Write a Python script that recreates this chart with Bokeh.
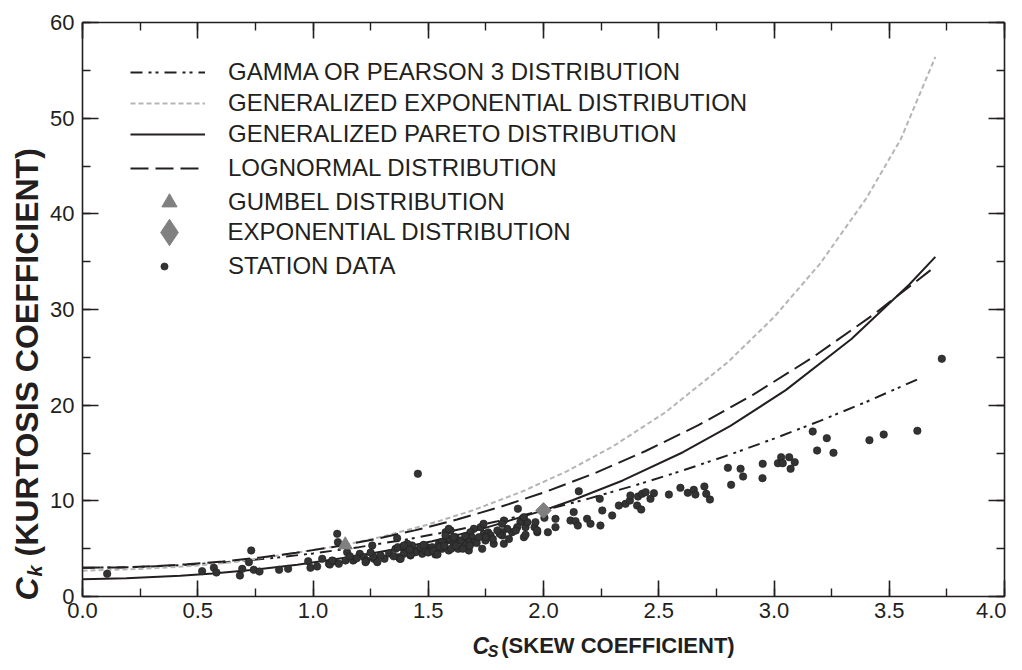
import math
from bokeh.plotting import figure
from bokeh.layouts import row, column
from bokeh.models import (Range1d, LinearAxis, SingleIntervalTicker, NumeralTickFormatter,
                          Legend, LegendItem)
from bokeh.core.properties import value
from bokeh.embed import file_html
from bokeh.resources import INLINE

# ---------------- data ----------------
gamma_cs = [0.0, 0.2, 0.4, 0.6, 0.8, 1.0, 1.2, 1.4, 1.6, 1.8, 2.0, 2.2, 2.4, 2.6, 2.8, 3.0, 3.2, 3.4, 3.63]
gamma_ck = [3.0, 3.06, 3.24, 3.54, 3.96, 4.50, 5.16, 5.94, 6.84, 7.86, 9.00, 10.26, 11.64, 13.14, 14.76, 16.50, 18.36, 20.34, 22.77]

genexp_cs = [0.0, 0.25, 0.45, 0.64, 0.87, 1.14, 1.30, 1.50, 1.70, 1.91, 2.10, 2.30, 2.53, 2.80, 3.00, 3.20, 3.40, 3.55, 3.70]
genexp_ck = [2.70, 2.88, 3.15, 3.55, 4.35, 5.40, 6.26, 7.53, 9.06, 11.0, 13.07, 15.67, 19.27, 24.5, 29.2, 34.8, 41.6, 47.8, 56.4]

pareto_cs = [0.0, 0.19, 0.424, 0.566, 0.732, 0.932, 1.183, 1.337, 1.517, 1.733, 2.0, 2.126, 2.344, 2.605, 2.811, 3.051, 3.336, 3.587, 3.70]
pareto_ck = [1.80, 1.90, 2.16, 2.40, 2.76, 3.31, 4.20, 4.87, 5.78, 7.07, 9.00, 10.06, 12.13, 15.08, 17.83, 21.57, 26.91, 32.61, 35.5]

lognorm_cs = [0.0, 0.150, 0.301, 0.453, 0.608, 0.766, 0.927, 1.093, 1.264, 1.441, 1.625, 1.816, 2.016, 2.225, 2.443, 2.672, 2.912, 3.164, 3.429, 3.70]
lognorm_ck = [3.0, 3.04, 3.16, 3.37, 3.66, 4.06, 4.57, 5.20, 5.97, 6.91, 8.04, 9.39, 11.00, 12.92, 15.21, 17.91, 21.13, 24.93, 29.42, 34.5]

gumbel_cs = [1.14]
gumbel_ck = [5.4]
expo_cs = [2.0]
expo_ck = [9.0]

station_cs = [
    0.107, 0.519, 0.570, 0.581, 0.683, 0.693, 0.722, 0.732, 0.743, 0.768, 0.853, 0.892,
    0.979, 0.989, 1.018, 1.040, 1.069, 1.090, 1.105, 1.108, 1.112, 1.141, 1.148, 1.177,
    1.203, 1.221, 1.232, 1.257, 1.264, 1.279, 1.310, 1.358, 1.365, 1.372, 1.387, 1.401,
    1.423, 1.430, 1.452, 1.474, 1.495,
    1.455, 1.073, 1.083, 1.174, 1.228, 1.261, 1.293, 1.368, 1.377, 1.394, 1.409, 1.445,
    1.466, 1.488, 1.517, 1.531, 1.546, 1.560, 1.575, 1.582, 1.589,
    2.153, 1.889, 2.004, 2.052, 2.052, 2.131, 2.117, 2.139, 2.149, 2.189, 2.204, 2.247,
    2.255, 2.244, 2.298, 2.327, 2.356, 2.375, 2.377, 2.406, 1.908, 1.900, 1.922, 1.961,
    1.973, 2.019, 1.965, 1.930, 1.886, 1.864, 1.880, 1.843, 1.820, 1.821, 1.810, 1.784,
    1.748, 1.741, 1.760, 1.770, 1.828, 1.820, 1.727, 1.740, 1.698, 1.683, 1.690, 1.698,
    1.670, 1.654, 1.640, 1.618, 1.610, 1.597, 1.590, 1.575, 1.560, 1.550, 1.915, 1.828,
    2.410, 2.424, 2.428, 2.443, 2.464, 2.479, 2.544, 2.594, 2.626, 2.652, 2.659, 2.698,
    2.706, 2.722, 2.800, 2.814, 2.855, 2.866, 1.915, 1.922, 1.973, 1.734, 1.676, 1.630,
    1.589, 1.611, 1.531, 1.424, 1.394, 1.380,
    2.951, 2.950, 3.017, 3.031, 3.038, 3.066, 3.072, 3.090, 3.168, 3.187, 3.229, 3.258,
    3.414, 3.476, 3.622, 3.728,
    1.330, 1.350, 1.420, 1.480, 1.500, 1.520, 1.540, 1.570, 1.600, 1.620, 1.650, 1.660,
    1.680, 1.710, 1.720, 1.750, 1.780, 1.800, 1.850, 1.250, 1.190, 1.160,
]
station_ck = [
    2.37, 2.65, 3.00, 2.51, 2.19, 2.89, 3.59, 4.81, 2.79, 2.61, 2.79, 2.89,
    3.69, 3.00, 3.14, 3.94, 3.42, 3.69, 6.55, 5.68, 3.42, 3.76, 4.63, 3.84,
    4.46, 4.11, 3.76, 5.33, 3.94, 3.59, 3.94, 4.98, 6.10, 4.11, 5.15, 4.63,
    4.29, 5.33, 4.81, 4.46, 5.15,
    12.83, 3.34, 3.76, 3.76, 3.59, 4.18, 4.29, 5.15, 3.94, 4.46, 5.51, 4.63,
    5.15, 4.81, 5.15, 4.63, 5.51, 4.98, 6.72, 5.85, 4.81,
    11.00, 9.17, 8.22, 8.12, 7.25, 8.82, 7.94, 7.87, 7.42, 8.12, 7.60, 7.42,
    8.99, 10.21, 8.47, 9.51, 9.69, 10.03, 10.56, 9.51, 8.12, 7.80, 7.25, 7.25,
    6.72, 6.72, 7.77, 7.77, 7.25, 6.72, 6.90, 7.07, 6.72, 6.38, 6.55, 5.51,
    5.85, 6.55, 6.70, 6.40, 7.94, 7.60, 7.25, 7.60, 7.07, 6.72, 6.20, 5.68,
    5.85, 5.51, 5.85, 6.20, 5.51, 6.90, 6.03, 6.38, 5.70, 5.20, 6.20, 5.51,
    10.45, 9.09, 10.73, 10.90, 10.21, 10.80, 10.66, 11.36, 10.84, 11.15, 10.66, 11.50,
    10.73, 10.14, 13.45, 11.67, 13.35, 12.54, 8.29, 6.45, 6.90, 4.98, 4.81, 4.98,
    7.07, 6.20, 4.39, 4.39, 5.33, 3.94,
    13.87, 12.37, 13.93, 14.56, 13.93, 14.56, 13.35, 14.04, 17.25, 15.26, 16.55, 15.02,
    16.34, 16.93, 17.32, 24.85,
    4.50, 4.20, 4.90, 5.40, 4.60, 4.80, 4.40, 5.30, 5.00, 5.30, 5.00, 6.30,
    5.30, 5.60, 6.20, 6.20, 6.00, 6.90, 6.00, 4.60, 4.00, 4.20,
]

legend_labels = ["GAMMA OR PEARSON 3 DISTRIBUTION", "GENERALIZED EXPONENTIAL DISTRIBUTION",
                 "GENERALIZED PARETO DISTRIBUTION", "LOGNORMAL DISTRIBUTION",
                 "GUMBEL DISTRIBUTION", "EXPONENTIAL DISTRIBUTION", "STATION DATA"]

x_ticks = [0.0, 0.5, 1.0, 1.5, 2.0, 2.5, 3.0, 3.5, 4.0]
y_ticks = [0, 10, 20, 30, 40, 50, 60]

x_title = ["C", "S", "(SKEW COEFFICIENT)"]
y_title = ["C", "k", "(KURTOSIS COEFFICIENT)"]

# ---------------- layout constants ----------------
INK = "#231f20"
FONT = "Liberation Sans"
YT_W = 46            # width of the y-title strip
P_W, P_H = 960, 632  # main plot
XT_H = 32            # height of the x-title strip
TOTAL_H = P_H + XT_H

p = figure(width=P_W, height=P_H, x_range=Range1d(0, 4), y_range=Range1d(0, 60),
           output_backend="svg", toolbar_location=None,
           min_border_left=36, min_border_right=2, min_border_top=22, min_border_bottom=36)
p.grid.visible = False
p.outline_line_color = None
p.background_fill_color = "white"
p.border_fill_color = "white"


def style_axis(ax, ticker, labels=True):
    ax.ticker = ticker
    ax.axis_line_color = INK
    ax.axis_line_width = 1.6
    ax.major_tick_line_color = INK
    ax.major_tick_line_width = 1.6
    ax.minor_tick_line_color = INK
    ax.minor_tick_line_width = 1.4
    ax.major_tick_in = 16
    ax.major_tick_out = 0
    ax.minor_tick_in = 8
    ax.minor_tick_out = 0
    if labels:
        ax.major_label_text_font = FONT
        ax.major_label_text_font_size = "22px"
        ax.major_label_text_color = INK
    else:
        ax.major_label_text_font_size = "0px"
        ax.major_label_standoff = 0
        ax.major_label_text_alpha = 0


style_axis(p.xaxis[0], SingleIntervalTicker(interval=x_ticks[1] - x_ticks[0], num_minor_ticks=2))
p.xaxis[0].formatter = NumeralTickFormatter(format="0.0")
p.xaxis[0].major_label_standoff = 6
style_axis(p.yaxis[0], SingleIntervalTicker(interval=y_ticks[1] - y_ticks[0], num_minor_ticks=2))
p.yaxis[0].major_label_standoff = 8

top = LinearAxis()
style_axis(top, SingleIntervalTicker(interval=x_ticks[1] - x_ticks[0], num_minor_ticks=2), labels=False)
p.add_layout(top, "above")
right = LinearAxis()
style_axis(right, SingleIntervalTicker(interval=y_ticks[1] - y_ticks[0], num_minor_ticks=2), labels=False)
p.add_layout(right, "right")

# ---------------- curves and points ----------------
r_gamma = p.line(gamma_cs, gamma_ck, line_color=INK, line_width=2, line_dash="12 6 3 4 3 6")
r_gexp = p.line(genexp_cs, genexp_ck, line_color="#b5b5b5", line_width=2, line_dash="5 3")
r_par = p.line(pareto_cs, pareto_ck, line_color=INK, line_width=2)
r_logn = p.line(lognorm_cs, lognorm_ck, line_color=INK, line_width=2, line_dash="18 7")

r_sta = p.scatter(station_cs, station_ck, marker="circle", size=7.5,
                  fill_color="#333333", line_color="#1e1e1e", line_width=0.6)
r_gum = p.scatter(gumbel_cs, gumbel_ck, marker="triangle", size=14,
                  fill_color="#808080", line_color="#808080")
r_exp = p.scatter(expo_cs, expo_ck, marker="square", size=11, angle=math.pi / 4,
                  fill_color="#808080", line_color="#808080")
# diamond used only for the legend symbol (renderer hidden in the plot)
r_exp_leg = p.scatter(expo_cs, expo_ck, marker="diamond", size=26,
                      fill_color="#808080", line_color="#808080", visible=False)

# ---------------- legend: one single-item legend per row ----------------
FRAME_LEFT, FRAME_BOTTOM = 82, 596


def add_legend_row(label, renderer, center_y, glyph_w, glyph_h, glyph_cx):
    lg = Legend(items=[LegendItem(label=label, renderers=[renderer])])
    left = glyph_cx - glyph_w / 2.0
    lg.location = (left - FRAME_LEFT, (FRAME_BOTTOM - center_y) - glyph_h / 2.0)
    lg.padding = 0
    lg.margin = 0
    lg.spacing = 0
    lg.glyph_width = glyph_w
    lg.glyph_height = glyph_h
    lg.label_height = glyph_h
    lg.label_standoff = int(round(228 - (left + glyph_w)))
    lg.label_text_font = FONT
    lg.label_text_font_size = "24px"
    lg.label_text_color = INK
    lg.border_line_alpha = 0
    lg.background_fill_alpha = 0
    lg.click_policy = "none"
    p.add_layout(lg)


add_legend_row(legend_labels[0], r_gamma, 72, 75, 30, 167.5)
add_legend_row(legend_labels[1], r_gexp, 102.5, 75, 30, 167.5)
add_legend_row(legend_labels[2], r_par, 134, 75, 30, 167.5)
add_legend_row(legend_labels[3], r_logn, 168, 75, 30, 167.5)
add_legend_row(legend_labels[4], r_gum, 202, 38, 38, 169)
add_legend_row(legend_labels[5], r_exp_leg, 232, 66, 66, 168.5)
add_legend_row(legend_labels[6], r_sta, 266, 18, 30, 164)

# ---------------- axis-title strips (italic C with subscripts) ----------------
xt = figure(width=P_W, height=XT_H, x_range=Range1d(0, P_W), y_range=Range1d(0, XT_H),
            output_backend="svg", toolbar_location=None, min_border=0,
            x_axis_type=None, y_axis_type=None)
xt.grid.visible = False
xt.outline_line_color = None
xt.text(x=[406, 422, 436], y=[19, 13, 19], text=x_title,
        text_font=value(FONT), text_font_size=["23px", "16px", "22px"],
        text_font_style=["bold italic", "bold italic", "bold"],
        text_color=INK, text_align="left", text_baseline="middle")

yt = figure(width=YT_W, height=TOTAL_H, x_range=Range1d(0, YT_W), y_range=Range1d(0, TOTAL_H),
            output_backend="svg", toolbar_location=None, min_border=0,
            x_axis_type=None, y_axis_type=None)
yt.grid.visible = False
yt.outline_line_color = None
yt.text(x=[26, 34, 26], y=[64, 88, 108], text=y_title,
        text_font=value(FONT), text_font_size=["32px", "20px", "32px"],
        text_font_style=["bold italic", "bold italic", "bold"],
        text_color=INK, text_align="left", text_baseline="middle", angle=math.pi / 2)

layout = row(yt, column(p, xt, spacing=0), spacing=0)

open("out.html", "w").write(file_html(layout, INLINE))
